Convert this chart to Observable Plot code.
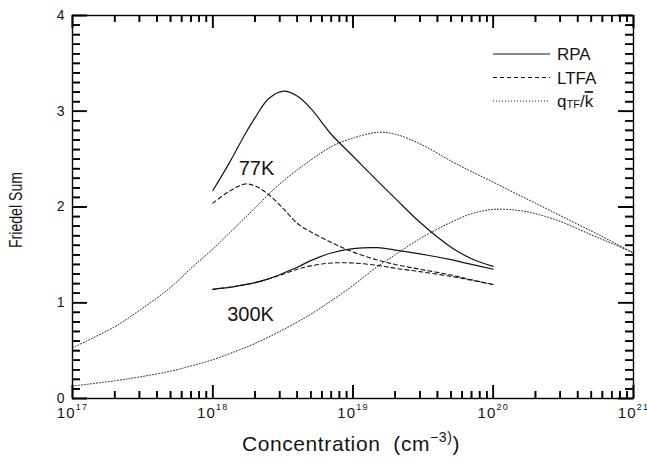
<!DOCTYPE html>
<html><head><meta charset="utf-8">
<script src="https://cdn.jsdelivr.net/npm/d3@7"></script>
<script src="https://cdn.jsdelivr.net/npm/@observablehq/plot@0.6"></script>
<style>
body{margin:0;background:#fff}
</style>
</head><body><div id="chart"></div>
<script>
// ---- data (concentration in cm^-3, Friedel sum) ----
const concMid = [1e18, 1.3e18, 1.7e18, 2e18, 2.5e18, 3.2e18, 4e18, 5e18, 7e18, 1e19, 1.5e19, 2e19, 3e19, 5e19, 7e19, 1e20];
const rpa77   = [2.17, 2.45, 2.76, 2.93, 3.13, 3.21, 3.16, 3.03, 2.76, 2.53, 2.27, 2.09, 1.84, 1.58, 1.46, 1.38];
const ltfa77  = [2.04, 2.16, 2.24, 2.22, 2.13, 1.98, 1.83, 1.74, 1.63, 1.53, 1.445, 1.40, 1.35, 1.29, 1.24, 1.19];
const rpa300  = [1.14, 1.16, 1.19, 1.21, 1.25, 1.31, 1.37, 1.44, 1.52, 1.565, 1.575, 1.55, 1.51, 1.45, 1.40, 1.35];
const ltfa300 = [1.14, 1.16, 1.19, 1.21, 1.25, 1.30, 1.35, 1.385, 1.415, 1.415, 1.39, 1.36, 1.325, 1.275, 1.235, 1.19];

const concFull = [1e17, 2e17, 3e17, 5e17, 7e17, 1e18, 1.5e18, 2e18, 3e18, 5e18, 7e18, 1e19, 1.5e19, 2e19, 3e19, 5e19, 7e19, 1e20, 1.5e20, 2e20, 3e20, 5e20, 7e20, 1e21];
const qtf77   = [0.53, 0.75, 0.92, 1.16, 1.36, 1.56, 1.81, 1.99, 2.24, 2.49, 2.63, 2.72, 2.78, 2.76, 2.66, 2.48, 2.37, 2.26, 2.13, 2.04, 1.91, 1.75, 1.64, 1.52];
const qtf300  = [0.13, 0.185, 0.225, 0.285, 0.34, 0.405, 0.50, 0.575, 0.70, 0.88, 1.02, 1.18, 1.38, 1.50, 1.67, 1.84, 1.93, 1.975, 1.965, 1.93, 1.85, 1.71, 1.62, 1.52];

// tick labels / annotations
const xMajor = [1e17, 1e18, 1e19, 1e20, 1e21];
const xMajorLabels = ["10^17", "10^18", "10^19", "10^20", "10^21"];
const yMajor = [0, 1, 2, 3, 4];
const yMajorLabels = ["0", "1", "2", "3", "4"];
const tempLabels = ["77K", "300K"];
const tempLabelX = [2.05e18, 1.86e18];
const tempLabelY = [2.40, 0.88];
const legendNames = ["RPA", "LTFA", "q_TF/k"];
const xTitle = "Concentration  (cm^−3)";
const yTitle = "Friedel Sum";

const rows = (xs, ys, temp) => xs.map((x, i) => ({conc: x, sum: ys[i], temp}));
const rpaRows  = [...rows(concMid, rpa77, "77K"), ...rows(concMid, rpa300, "300K")];
const ltfaRows = [...rows(concMid, ltfa77, "77K"), ...rows(concMid, ltfa300, "300K")];
const qtfRows  = [...rows(concFull, qtf77, "77K"), ...rows(concFull, qtf300, "300K")];

const W = 647, H = 460, mL = 72, mR = 14, mT = 15, mB = 62;
const fw = W - mL - mR, fh = H - mT - mB;
const xDom = [1e17, 1e21], yDom = [0, 4];
const xMinor = d3.scaleLog().domain(xDom).ticks().filter(v => !xMajor.some(m => Math.abs(m - v) / m < 1e-6));
const yMinor = d3.range(0, 41).map(i => i / 10).filter(v => Math.abs(v - Math.round(v)) > 1e-6);
// tick lengths expressed in data units (pixels -> scale units)
const yLen = px => px * (yDom[1] - yDom[0]) / fh;
const xFac = px => Math.pow(10, px * Math.log10(xDom[1] / xDom[0]) / fw);
const ink = "#151515";
const font = "'Liberation Sans', Arial, sans-serif";
const tk = {stroke: "#000", strokeWidth: 1.6};

const svg = Plot.plot({
  width: W, height: H,
  marginLeft: mL, marginRight: mR, marginTop: mT, marginBottom: mB,
  style: {fontFamily: font, background: "white"},
  x: {type: "log", domain: xDom, axis: null},
  y: {domain: yDom, axis: null},
  marks: [
    // curves
    Plot.line(qtfRows, {x: "conc", y: "sum", z: "temp", stroke: "#222", strokeWidth: 1, strokeDasharray: "1,2", curve: "catmull-rom"}),
    Plot.line(ltfaRows, {x: "conc", y: "sum", z: "temp", stroke: ink, strokeWidth: 1.1, strokeDasharray: "4,3", curve: "catmull-rom"}),
    Plot.line(rpaRows, {x: "conc", y: "sum", z: "temp", stroke: ink, strokeWidth: 1.2, curve: "catmull-rom"}),
    Plot.frame({stroke: "black", strokeWidth: 1.4}),
    // inward ticks on all four sides
    Plot.ruleX(xMinor, {x: d => d, y1: yDom[0], y2: yDom[0] + yLen(7), ...tk}),
    Plot.ruleX(xMajor, {x: d => d, y1: yDom[0], y2: yDom[0] + yLen(13), ...tk}),
    Plot.ruleX(xMinor, {x: d => d, y1: yDom[1], y2: yDom[1] - yLen(7), ...tk}),
    Plot.ruleX(xMajor, {x: d => d, y1: yDom[1], y2: yDom[1] - yLen(13), ...tk}),
    Plot.ruleY(yMinor, {y: d => d, x1: xDom[0], x2: xDom[0] * xFac(8), ...tk}),
    Plot.ruleY(yMajor, {y: d => d, x1: xDom[0], x2: xDom[0] * xFac(15), ...tk}),
    Plot.ruleY(yMinor, {y: d => d, x1: xDom[1], x2: xDom[1] / xFac(8), ...tk}),
    Plot.ruleY(yMajor, {y: d => d, x1: xDom[1], x2: xDom[1] / xFac(15), ...tk}),
    // tick labels
    Plot.text(xMajor, {x: d => d, text: (d, i) => xMajorLabels[i], frameAnchor: "bottom", lineAnchor: "middle", textAnchor: "middle", dy: 15, fontSize: 15, fill: ink}),
    Plot.text(yMajor, {y: d => d, text: (d, i) => yMajorLabels[i], frameAnchor: "left", lineAnchor: "middle", dx: -8, textAnchor: "end", fontSize: 14, fill: ink}),
    // axis titles
    Plot.text([yTitle], {frameAnchor: "left", textAnchor: "middle", lineAnchor: "middle", dx: -56, dy: 3, rotate: -90, fontSize: 18, fill: ink}),
    Plot.text([xTitle], {frameAnchor: "bottom", textAnchor: "middle", lineAnchor: "middle", dx: -2, dy: 46, fontSize: 21, fill: ink}),
    // temperature labels
    Plot.text(tempLabels, {x: (d, i) => tempLabelX[i], y: (d, i) => tempLabelY[i], text: d => d, fontSize: 20, fill: ink})
  ]
});

// same ticks again, placed with the plot's own scales (belt and braces)
const sx = svg.scale("x"), sy = svg.scale("y");
const X0 = sx.apply(xDom[0]), X1 = sx.apply(xDom[1]), Y0 = sy.apply(yDom[0]), Y1 = sy.apply(yDom[1]);
const tg = d3.select(svg).append("g").attr("stroke", "#000").attr("stroke-width", 1.6);
const tick = (x1, y1, x2, y2) => tg.append("line").attr("x1", x1).attr("y1", y1).attr("x2", x2).attr("y2", y2);
[[xMinor, 7], [xMajor, 13]].forEach(([vals, len]) => vals.forEach(v => {
  const x = sx.apply(v) + 0.5;
  tick(x, Y0, x, Y0 - len);
  tick(x, Y1, x, Y1 + len);
}));
[[yMinor, 8], [yMajor, 15]].forEach(([vals, len]) => vals.forEach(v => {
  const y = sy.apply(v) + 0.5;
  tick(X0, y, X0 + len, y);
  tick(X1, y, X1 - len, y);
}));

// rich text: superscripts / subscripts
function setRich(el, segs) {
  const t = d3.select(el); t.text(null);
  let shift = 0;
  segs.forEach(s => {
    const sp = t.append("tspan").text(s.t);
    const want = s.dy || 0;
    if (want !== shift) { sp.attr("dy", want - shift); shift = want; }
    if (s.size) sp.attr("font-size", s.size);
    if (s.deco) sp.style("text-decoration", s.deco);
  });
}
d3.select(svg).selectAll("text").each(function() {
  const s = this.textContent;
  if (/^10\^\d+$/.test(s)) {
    const [b, e] = s.split("^");
    setRich(this, [{t: b}, {t: e, dy: -8, size: 9}]);
    d3.select(this).attr("letter-spacing", 1.2);
  } else if (s === xTitle) {
    const [b, e] = s.split("^");
    setRich(this, [{t: b}, {t: e, dy: -9, size: 14}, {t: ")", dy: 0}]);
    d3.select(this).attr("letter-spacing", 0.6);
  } else if (s === yTitle) {
    d3.select(this).attr("textLength", 76).attr("lengthAdjust", "spacingAndGlyphs");
  }
});

// legend (top right, inside frame)
const lg = d3.select(svg).append("g").attr("fill", ink).attr("font-family", font).attr("font-size", 17).attr("text-anchor", "start");
const dashes = [null, "4,3", "1,2"];
legendNames.forEach((name, i) => {
  const y = 54 + i * 23.5;
  lg.append("line").attr("x1", 493).attr("x2", 550).attr("y1", y).attr("y2", y)
    .attr("stroke", ink).attr("stroke-width", i === 2 ? 1 : 1.1).attr("stroke-dasharray", dashes[i]);
  const t = lg.append("text").attr("x", 557).attr("y", y).attr("dy", "0.36em");
  if (name.includes("_")) {
    setRich(t.node(), [{t: "q"}, {t: "TF", dy: 1, size: 11}, {t: "/", dy: 0}, {t: "k", deco: "overline"}]);
  } else t.text(name);
});

document.getElementById("chart").appendChild(svg);
</script>
</body></html>
